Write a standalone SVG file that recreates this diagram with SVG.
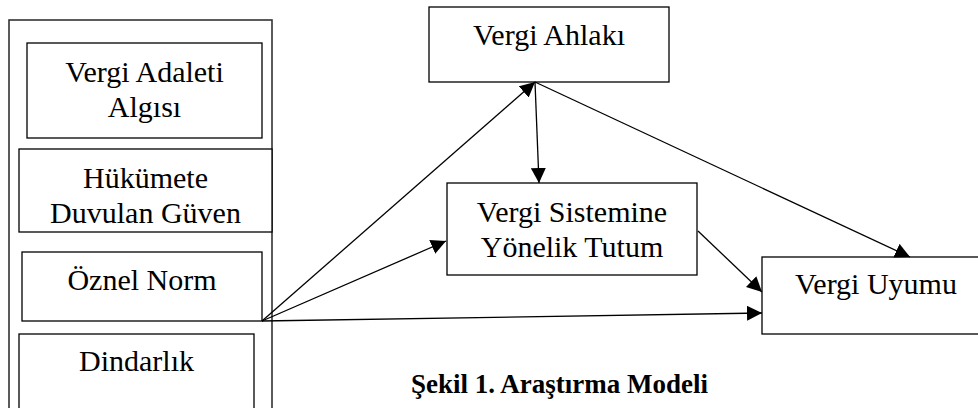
<svg xmlns="http://www.w3.org/2000/svg" width="978" height="408" viewBox="0 0 978 408">
<defs>
<style>
.box{fill:#fff;stroke:#000;stroke-width:1.3}
.outer{fill:none;stroke:#333;stroke-width:1.6}
.t{font-family:"Liberation Serif","Times New Roman",serif;font-size:30px;fill:#000;text-anchor:middle}
.cap{font-family:"Liberation Serif","Times New Roman",serif;font-size:27px;font-weight:bold;fill:#000}
.c{stroke:#000;stroke-width:1.3;fill:none;marker-end:url(#ah)}
</style>
<marker id="ah" viewBox="0 0 10 10" refX="10" refY="5" markerWidth="15" markerHeight="15" markerUnits="userSpaceOnUse" orient="auto">
<path d="M0,0 L10,5 L0,10 z" fill="#000"/>
</marker>
</defs>
<rect width="978" height="408" fill="#fff"/>
<g id="outer"><rect class="outer" x="9" y="20" width="263" height="400"/></g>
<g id="n-adalet"><rect class="box" x="27" y="43" width="235" height="95"/>
<text class="t" x="144.5" y="82">Vergi Adaleti</text><text class="t" x="144.5" y="117">Algısı</text></g>
<g id="n-guven"><rect class="box" x="19" y="149" width="253" height="83"/>
<text class="t" x="145.5" y="188">Hükümete</text><text class="t" x="145.5" y="223">Duvulan Güven</text></g>
<g id="n-norm"><rect class="box" x="22" y="252" width="240" height="69"/>
<text class="t" x="142" y="290">Öznel Norm</text></g>
<g id="n-din"><rect class="box" x="19" y="334" width="235" height="90"/>
<text class="t" x="136.5" y="371">Dindarlık</text></g>
<g id="n-ahlak"><rect class="box" x="429" y="7" width="240" height="75"/>
<text class="t" x="549" y="45">Vergi Ahlakı</text></g>
<g id="n-tutum"><rect class="box" x="447" y="183" width="250" height="92"/>
<text class="t" x="572" y="222">Vergi Sistemine</text><text class="t" x="572" y="257">Yönelik Tutum</text></g>
<g id="n-uyum"><rect class="box" x="762" y="257" width="230" height="77"/>
<text class="t" x="876" y="294">Vergi Uyumu</text></g>
<g id="connectors">
<line class="c" x1="262" y1="321" x2="535" y2="82"/>
<line class="c" x1="262" y1="321" x2="446" y2="241"/>
<line class="c" x1="262" y1="321" x2="762" y2="313" stroke-width="2"/>
<line class="c" x1="535" y1="82" x2="539" y2="183" stroke-width="2"/>
<line class="c" x1="535" y1="82" x2="910" y2="257"/>
<line class="c" x1="698" y1="231" x2="762" y2="292"/>
</g>
<text class="cap" x="411" y="393">Şekil 1. Araştırma Modeli</text>
</svg>
